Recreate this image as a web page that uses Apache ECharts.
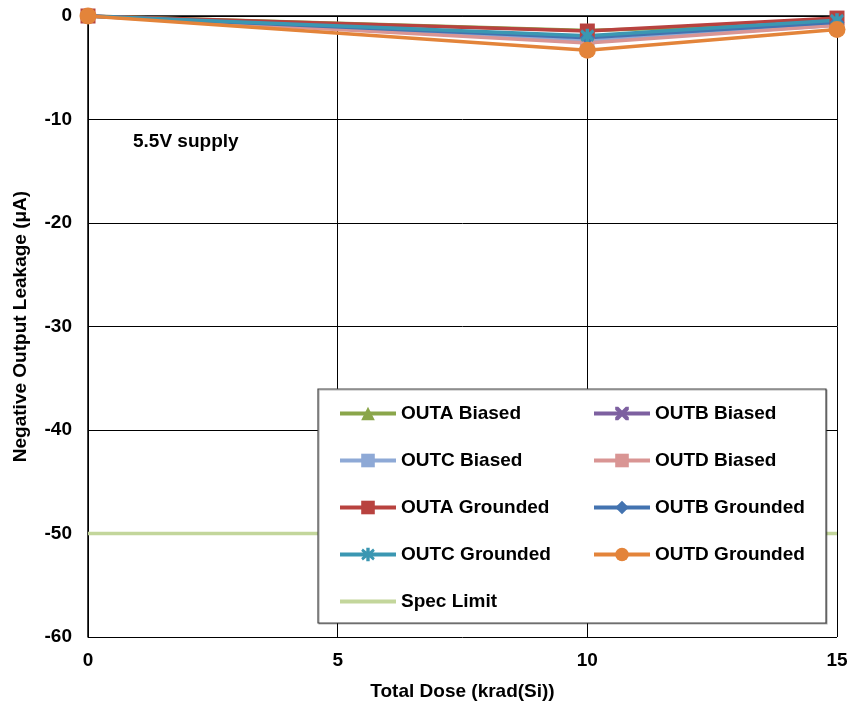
<!DOCTYPE html>
<html><head><meta charset="utf-8">
<script src="https://cdn.jsdelivr.net/npm/echarts@6/dist/echarts.min.js"></script>
<style>html,body{margin:0;padding:0;background:#fff}#c{width:851px;height:706px}</style>
</head><body><div id="c"></div>
<script>
const doses = [0, 10, 15];
const outaBiased = [0, -1.4, -0.7];
const outbBiased = [0, -2.0, -0.8];
const outcBiased = [0, -2.4, -0.9];
const outdBiased = [0, -2.6, -0.9];
const outaGrounded = [0, -1.45, -0.2];
const outbGrounded = [0, -2.1, -0.6];
const outcGrounded = [0, -1.9, -0.4];
const outdGrounded = [0, -3.3, -1.3];
const specDoses = [0, 15];
const specLimit = [-50, -50];
const xTicks = [0, 5, 10, 15];
const yTicks = [-60, -50, -40, -30, -20, -10, 0];

const X = 'path://M-1,-1 L-0.55,-1 L0,-0.45 L0.55,-1 L1,-1 L1,-0.55 L0.45,0 L1,0.55 L1,1 L0.55,1 L0,0.45 L-0.55,1 L-1,1 L-1,0.55 L-0.45,0 L-1,-0.55 Z';
const STAR = 'path://M-0.25,-1 L0.25,-1 L0.25,-0.45 L0.75,-0.9 L1,-0.55 L0.5,0 L1,0.55 L0.75,0.9 L0.25,0.45 L0.25,1 L-0.25,1 L-0.25,0.45 L-0.75,0.9 L-1,0.55 L-0.5,0 L-1,-0.55 L-0.75,-0.9 L-0.25,-0.45 Z';

function pts(xs, ys){ return xs.map((x,i)=>[x, ys[i]]); }
function s(name, ys, color, symbol, size){
  return {name, type:'line', data: pts(doses, ys), symbol, symbolSize:size,
    lineStyle:{color, width:3.5}, itemStyle:{color}, emphasis:{disabled:true}};
}
const series = [
  s('OUTA Biased', outaBiased, '#8AA64A', 'triangle', 14),
  s('OUTB Biased', outbBiased, '#7D60A0', X, 12),
  s('OUTC Biased', outcBiased, '#8EA9D6', 'rect', 14),
  s('OUTD Biased', outdBiased, '#D99594', 'rect', 14),
  s('OUTA Grounded', outaGrounded, '#B8423F', 'rect', 15),
  s('OUTB Grounded', outbGrounded, '#4373B0', 'diamond', 15),
  s('OUTC Grounded', outcGrounded, '#3B97B2', STAR, 14),
  s('OUTD Grounded', outdGrounded, '#E3843A', 'circle', 17),
  {name:'Spec Limit', type:'line', data: pts(specDoses, specLimit), symbol:'none',
    lineStyle:{color:'#C3D69B', width:3.5}, itemStyle:{color:'#C3D69B'}, z:1}
];
const font = {fontFamily:'Liberation Sans, Arial, sans-serif', fontWeight:'bold', fontSize:19, color:'#000'};
function li(name){ return {name, lineStyle:{width:4}}; }
const legendCommon = {orient:'vertical', top:404, itemWidth:56, itemHeight:17, itemGap:28, z:20, padding:0,
  textStyle:font, selectedMode:false, lineStyle:{width:4}};
const chart = echarts.init(document.getElementById('c'));
chart.setOption({
  animation:false,
  grid:{left:88, right:14, top:16, bottom:68, containLabel:false},
  xAxis:{type:'value', min:0, max:15, interval:5,
    axisLine:{lineStyle:{color:'#000', width:1.5}}, axisTick:{show:false},
    splitLine:{show:true, lineStyle:{color:'#000', width:1}},
    axisLabel:Object.assign({margin:14, formatter:v=>xTicks.includes(v)?String(v):''}, font),
    name:'Total Dose (krad(Si))', nameLocation:'middle', nameGap:45, nameTextStyle:font},
  yAxis:{type:'value', min:-60, max:0, interval:10,
    axisLine:{show:true, lineStyle:{color:'#000', width:1.5}}, axisTick:{show:false},
    splitLine:{show:true, lineStyle:{color:'#000', width:1}},
    axisLabel:Object.assign({margin:16, formatter:v=>yTicks.includes(v)?String(v):''}, font),
    name:'Negative Output Leakage (μA)', nameLocation:'middle', nameGap:58, nameTextStyle:font},
  legend:[
    Object.assign({left:338, data:[li('OUTA Biased'),li('OUTC Biased'),li('OUTA Grounded'),li('OUTC Grounded'),
      {name:'Spec Limit', lineStyle:{width:4}, itemStyle:{opacity:0}}]}, legendCommon),
    Object.assign({left:592, data:[li('OUTB Biased'),li('OUTD Biased'),li('OUTB Grounded'),li('OUTD Grounded')]}, legendCommon)
  ],
  graphic:[
    {type:'rect', shape:{x:318, y:389, width:508, height:234}, z:5,
     style:{fill:'#fff', stroke:'#444', lineWidth:1.2, shadowColor:'rgba(0,0,0,0.3)', shadowOffsetX:1, shadowOffsetY:1}},
    {type:'text', left:133, top:132, z:6, style:{text:'5.5V supply', fill:'#000', font:'bold 19px "Liberation Sans", Arial, sans-serif'}}
  ],
  series
});
</script></body></html>
